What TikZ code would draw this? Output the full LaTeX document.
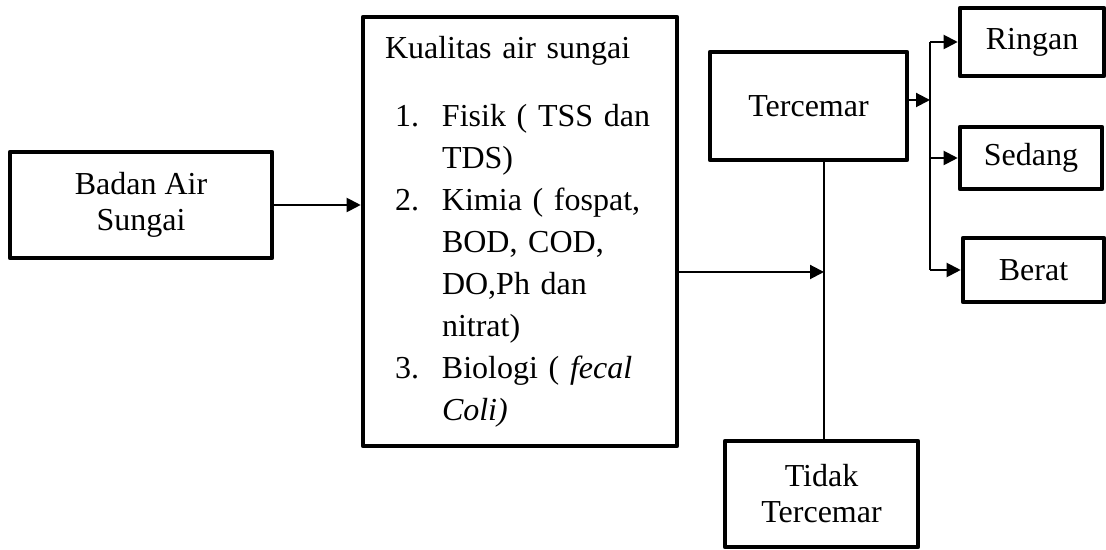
\documentclass[tikz,border=0pt]{standalone}
\usepackage{fontspec}
\setmainfont{Liberation Serif}
\usetikzlibrary{arrows.meta}
\begin{document}
\begin{tikzpicture}[>={Triangle[length=7pt,width=7pt]},x=0.5pt,y=0.5pt,
		kotak/.style={draw,line width=2.3pt,line join=round,align=center,inner sep=0pt,font=\fontsize{16}{18}\selectfont},
		garis/.style={line width=1pt}]
		\useasboundingbox (0,0) rectangle (1106,550);
		\node[kotak,minimum width=131pt,minimum height=53pt] (badan) at (141,345) {Badan Air\\Sungai};
		\node[kotak,minimum width=157pt,minimum height=214.5pt,text width=135pt,inner xsep=11pt,align=left,font=\fontsize{16}{21}\selectfont] (kualitas) at (520,318.5) {%
			\begin{tabular}{@{\hspace{5pt}}p{23.5pt}@{}l@{}}
				\multicolumn{2}{@{}l}{Kualitas air sungai}\\[13pt]
				1. & Fisik ( TSS dan\\
				 & TDS)\\
				2. & Kimia ( fospat,\\
				 & BOD, COD,\\
				 & DO,Ph dan\\
				 & nitrat)\\
				3. & Biologi ( \textit{fecal}\\
				 & \textit{Coli)}
			\end{tabular}};
		\node[kotak,minimum width=98.5pt,minimum height=54pt] (tercemar) at (808.5,444) {Tercemar};
		\node[kotak,minimum width=96.5pt,minimum height=53pt] (tidak) at (821.5,56) {Tidak\\Tercemar};
		\node[kotak,minimum width=72pt,minimum height=34pt] (ringan) at (1032,508) {Ringan};
		\node[kotak,minimum width=71pt,minimum height=31pt] (sedang) at (1031,392) {Sedang};
		\node[kotak,minimum width=70.5pt,minimum height=32pt] (berat) at (1033.5,280) {Berat};
		\coordinate (simpang) at (824,278);
		\coordinate (cabang) at (930,450);
		\draw[garis,->] (badan.east) -- (badan.east -| kualitas.west);
		\draw[garis,->] (kualitas.east |- simpang) -- (simpang);
		\draw[garis] (simpang |- tercemar.south) -- (simpang |- tidak.north);
		\draw[garis,->] (tercemar.east |- cabang) -- (cabang);
		\draw[garis] (cabang |- ringan) -- (cabang |- berat);
		\foreach \k in {ringan,sedang,berat}
			\draw[garis,->] (cabang |- \k) -- (\k.west);
		\end{tikzpicture}
\end{document}
